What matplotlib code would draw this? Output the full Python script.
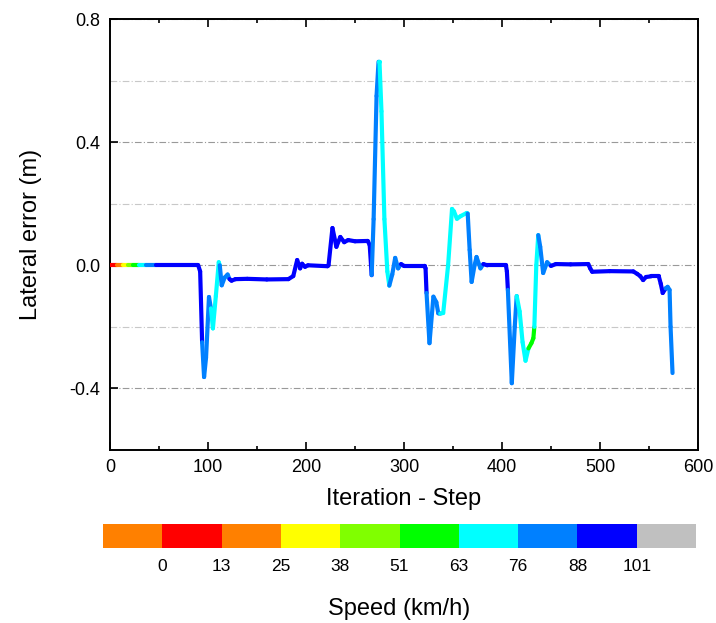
import numpy as np
import matplotlib
matplotlib.use("Agg")
import matplotlib.pyplot as plt
from matplotlib.collections import LineCollection
from matplotlib.colors import ListedColormap, BoundaryNorm
from matplotlib.ticker import MultipleLocator, FormatStrFormatter
import matplotlib.cm as cm

plt.rcParams['font.family'] = ['Liberation Sans', 'DejaVu Sans']
plt.rcParams['axes.unicode_minus'] = False

# Данные (точки)
step = [0, 6, 7, 12, 13, 17, 18, 22, 23, 29, 30, 36, 37, 46, 47, 90,
        92, 94, 96, 98, 101, 103, 105, 108, 111, 112, 114, 117, 120, 122, 124, 128,
        140, 160, 182, 187, 191, 194, 196, 199, 202, 222,
        223, 227, 231, 235, 239, 243, 250, 263, 265, 267,
        269, 272, 274, 275, 277, 280, 283, 285, 288, 291, 294, 297, 300, 321,
        322, 323, 326, 330, 333, 335, 337, 340, 345, 349, 351, 354, 358, 364,
        365, 367, 369, 372, 374, 378, 381, 385, 404,
        405, 406, 410, 413, 415, 418, 421, 424, 427, 430, 432, 433, 435, 437,
        439, 442, 446, 450, 455, 470, 488, 490, 492, 510, 534,
        538, 541, 544, 547, 552, 560, 562, 564, 567, 569, 571, 572, 574]
lateral_error = [0.0, 0.0, 0.0, 0.0, 0.0, 0.0, 0.0, 0.0, 0.0, 0.0, 0.0, 0.0, 0.0, 0.0, 0.0, 0.0,
                 -0.02, -0.25, -0.363, -0.30, -0.103, -0.14, -0.205, -0.10, 0.01, 0.0, -0.065, -0.04, -0.03, -0.045, -0.05, -0.045,
                 -0.044, -0.046, -0.045, -0.035, 0.017, -0.01, 0.005, -0.005, 0.0, -0.003,
                 0.0, 0.121, 0.06, 0.092, 0.075, 0.082, 0.078, 0.079, 0.066, -0.032,
                 0.15, 0.55, 0.661, 0.661, 0.5, 0.15, -0.02, -0.066, -0.03, 0.024, -0.01, 0.004, -0.002, -0.002,
                 -0.01, -0.09, -0.253, -0.102, -0.12, -0.156, -0.157, -0.155, 0.0, 0.183, 0.175, 0.151, 0.16, 0.17,
                 0.168, 0.05, -0.054, 0.0, 0.027, -0.01, 0.004, 0.0, 0.0,
                 -0.02, -0.08, -0.383, -0.2, -0.1, -0.15, -0.25, -0.31, -0.27, -0.253, -0.237, -0.2, 0.0, 0.098,
                 0.06, -0.025, 0.01, -0.002, 0.004, 0.003, 0.004, -0.01, -0.021, -0.019, -0.02,
                 -0.028, -0.035, -0.048, -0.038, -0.036, -0.036, -0.06, -0.09, -0.075, -0.07, -0.08, -0.2, -0.35]
speed = [5, 10, 18, 22, 30, 35, 45, 48, 57, 60, 70, 74, 82, 86, 92, 95,
         95, 84, 84, 84, 80, 72, 70, 70, 74, 80, 82, 84, 86, 90, 92, 94,
         95, 95, 95, 95, 95, 95, 95, 95, 95, 95,
         95, 95, 95, 95, 95, 95, 95, 95, 95, 84,
         82, 80, 72, 70, 70, 70, 70, 80, 82, 82, 84, 90, 95, 95,
         95, 82, 82, 82, 80, 80, 72, 70, 70, 70, 70, 70, 70, 70,
         82, 82, 82, 82, 84, 86, 92, 95, 95,
         95, 82, 82, 80, 72, 70, 70, 70, 58, 57, 57, 70, 72, 82,
         82, 84, 86, 92, 95, 95, 95, 95, 95, 95, 95,
         95, 95, 95, 95, 95, 95, 95, 95, 82, 82, 82, 82, 82]

speed_ticks = [0, 13, 25, 38, 51, 63, 76, 88, 101]
speed_colors = ['#FF0000', '#FF8000', '#FFFF00', '#80FF00', '#00FF00',
                '#00FFFF', '#0080FF', '#0000FF']

cmap = ListedColormap(speed_colors)
cmap.set_under('#FF8000')
cmap.set_over('#C0C0C0')
norm = BoundaryNorm(speed_ticks, cmap.N)

fig = plt.figure(figsize=(7.16, 6.23), dpi=100)
ax = fig.add_axes([110 / 716, 173 / 623, 588 / 716, 431 / 623])

pts = np.column_stack([step, lateral_error])
segs = np.stack([pts[:-1], pts[1:]], axis=1)
lc = LineCollection(segs, cmap=cmap, norm=norm, linewidths=3.0,
                    capstyle='round', joinstyle='round', zorder=3)
lc.set_array(np.array(speed[:-1], dtype=float))
ax.add_collection(lc)

ax.set_xlim(0, 600)
ax.set_ylim(-0.6, 0.8)
ax.xaxis.set_major_locator(MultipleLocator(100))
ax.xaxis.set_minor_locator(MultipleLocator(50))
ax.yaxis.set_major_locator(MultipleLocator(0.4))
ax.yaxis.set_minor_locator(MultipleLocator(0.2))
ax.yaxis.set_major_formatter(FormatStrFormatter('%.1f'))

ax.tick_params(axis='x', which='major', direction='in', length=6, width=1.2,
               top=True, labelsize=13, pad=6.5)
ax.tick_params(axis='x', which='minor', direction='in', length=3, width=1.2, top=True)
ax.tick_params(axis='y', which='major', direction='in', length=6, width=1.2,
               labelsize=13, pad=7)
ax.tick_params(axis='y', which='minor', length=0)

ax.grid(axis='y', which='major', color='#999999', linestyle=(0, (6, 2, 1, 2)), linewidth=0.8)
ax.grid(axis='y', which='minor', color='#c8c8c8', linestyle=(0, (6, 2, 1, 2)), linewidth=0.8)
ax.set_axisbelow(True)
for s in ax.spines.values():
    s.set_linewidth(1.4)

ax.set_xlabel('Iteration - Step', fontsize=17, labelpad=8.5)
ax.set_ylabel('Lateral error (m)', fontsize=17, labelpad=20)

# Цветовая шкала скорости
cax = fig.add_axes([103 / 716, 75 / 623, 593 / 716, 24 / 623])
sm = cm.ScalarMappable(norm=norm, cmap=cmap)
cbar = fig.colorbar(sm, cax=cax, orientation='horizontal', extend='both',
                    extendrect=True, extendfrac=0.125, ticks=speed_ticks)
cbar.outline.set_visible(False)
cbar.ax.tick_params(length=0, labelsize=12.5, pad=8)
cbar.set_ticklabels([str(t) for t in speed_ticks])
cbar.set_label('Speed (km/h)', fontsize=17, labelpad=17)

fig.savefig('out.png', dpi=100)
